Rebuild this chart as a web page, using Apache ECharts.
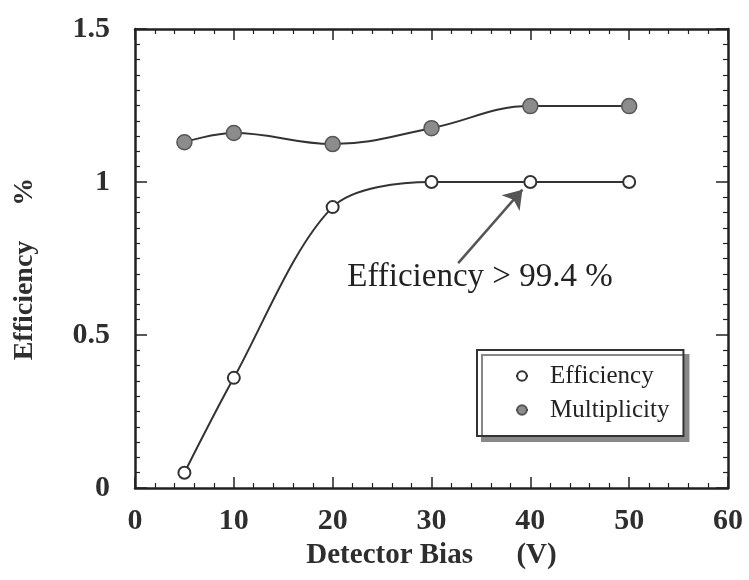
<!DOCTYPE html>
<html>
<head>
<meta charset="utf-8">
<script src="https://cdn.jsdelivr.net/npm/echarts@6/dist/echarts.min.js"></script>
<style>html,body{margin:0;padding:0;background:#fff}#c{width:749px;height:580px}</style>
</head>
<body>
<div id="c"></div>
<script>
const biasV = [5, 10, 20, 30, 40, 50];
const efficiency = [0.05, 0.36, 0.918, 1.0, 1.0, 1.0];
const multiplicity = [1.13, 1.16, 1.124, 1.176, 1.248, 1.248];
const xTickLabels = ['0', '10', '20', '30', '40', '50', '60'];
const yTickLabels = ['0', '0.5', '1', '1.5'];
const annotationText = 'Efficiency > 99.4 %';

const serif = '"Liberation Serif", "Times New Roman", serif';
const ink = '#2e2e2e';
const chart = echarts.init(document.getElementById('c'), null, {renderer: 'canvas'});

function xAxisCfg(pos, showLabels) {
  return {
    type: 'value', position: pos, min: 0, max: 60, interval: 10,
    name: showLabels ? 'Detector Bias      (V)' : '',
    nameLocation: 'middle', nameGap: 46,
    nameTextStyle: {fontFamily: serif, fontWeight: 'bold', fontSize: 29, color: ink},
    axisLine: {show: true, onZero: false, lineStyle: {color: '#222', width: 2.5}},
    axisTick: {show: true, inside: true, length: 11, lineStyle: {color: '#222', width: 1.5}},
    minorTick: {show: true, splitNumber: 5, length: 5, lineStyle: {color: '#222', width: 1.2}},
    axisLabel: {show: showLabels, margin: 18, fontFamily: serif, fontWeight: 'bold', fontSize: 30, color: ink,
      formatter: (v) => xTickLabels[Math.round(v / 10)]},
    splitLine: {show: false}
  };
}
function yAxisCfg(pos, showLabels) {
  return {
    type: 'value', position: pos, min: 0, max: 1.5, interval: 0.5,
    name: showLabels ? 'Efficiency     %   ' : '',
    nameLocation: 'middle', nameGap: 96,
    nameTextStyle: {fontFamily: serif, fontWeight: 'bold', fontSize: 28, color: ink},
    axisLine: {show: true, onZero: false, lineStyle: {color: '#222', width: 2.5}},
    axisTick: {show: true, inside: true, length: 12, lineStyle: {color: '#222', width: 1.5}},
    minorTick: {show: true, splitNumber: 10, length: 5, lineStyle: {color: '#222', width: 1.2}},
    axisLabel: {show: showLabels, margin: 25, fontFamily: serif, fontWeight: 'bold', fontSize: 30, color: ink,
      formatter: (v) => yTickLabels[Math.round(v / 0.5)]},
    splitLine: {show: false}
  };
}

chart.setOption({
  animation: false,
  backgroundColor: '#fff',
  grid: {left: 135, right: 21, top: 29, bottom: 92, containLabel: false},
  xAxis: [xAxisCfg('bottom', true), xAxisCfg('top', false)],
  yAxis: [yAxisCfg('left', true), yAxisCfg('right', false)],
  legend: {
    orient: 'vertical', left: 477, top: 350,
    data: ['Efficiency', 'Multiplicity'],
    itemWidth: 12, itemHeight: 12, itemGap: 6,
    padding: [12, 14, 12, 38],
    backgroundColor: '#fff', borderColor: '#333', borderWidth: 2, borderRadius: 0,
    shadowColor: '#888', shadowOffsetX: 5, shadowOffsetY: 5, shadowBlur: 0,
    textStyle: {fontFamily: serif, fontSize: 25, color: '#222', lineHeight: 28, padding: [0, 0, 0, 17]}
  },
  series: [
    {
      name: 'Efficiency', type: 'line', data: biasV.map((x, i) => [x, efficiency[i]]),
      smooth: 0.3,
      symbol: 'circle', symbolSize: 12,
      lineStyle: {color: '#333', width: 2},
      itemStyle: {color: '#fff', borderColor: '#333', borderWidth: 2},
      z: 3,
      markLine: {
        silent: true, symbol: ['none', 'arrow'], symbolSize: 18,
        lineStyle: {color: '#555', width: 2.5, type: 'solid'},
        label: {show: false},
        data: [[{coord: [32.7, 0.735]}, {coord: [39.2, 0.975]}]]
      },
      markPoint: {
        silent: true, symbol: 'circle', symbolSize: 0,
        label: {show: true, formatter: annotationText, fontFamily: serif, fontSize: 33, color: '#222', position: 'inside'},
        data: [{coord: [34.9, 0.69]}]
      }
    },
    {
      name: 'Multiplicity', type: 'line', data: biasV.map((x, i) => [x, multiplicity[i]]),
      smooth: 0.4,
      symbol: 'circle', symbolSize: 15,
      lineStyle: {color: '#333', width: 2},
      itemStyle: {color: '#8c8c8c', borderColor: '#555', borderWidth: 1.5},
      z: 3
    }
  ]
});
</script>
</body>
</html>
